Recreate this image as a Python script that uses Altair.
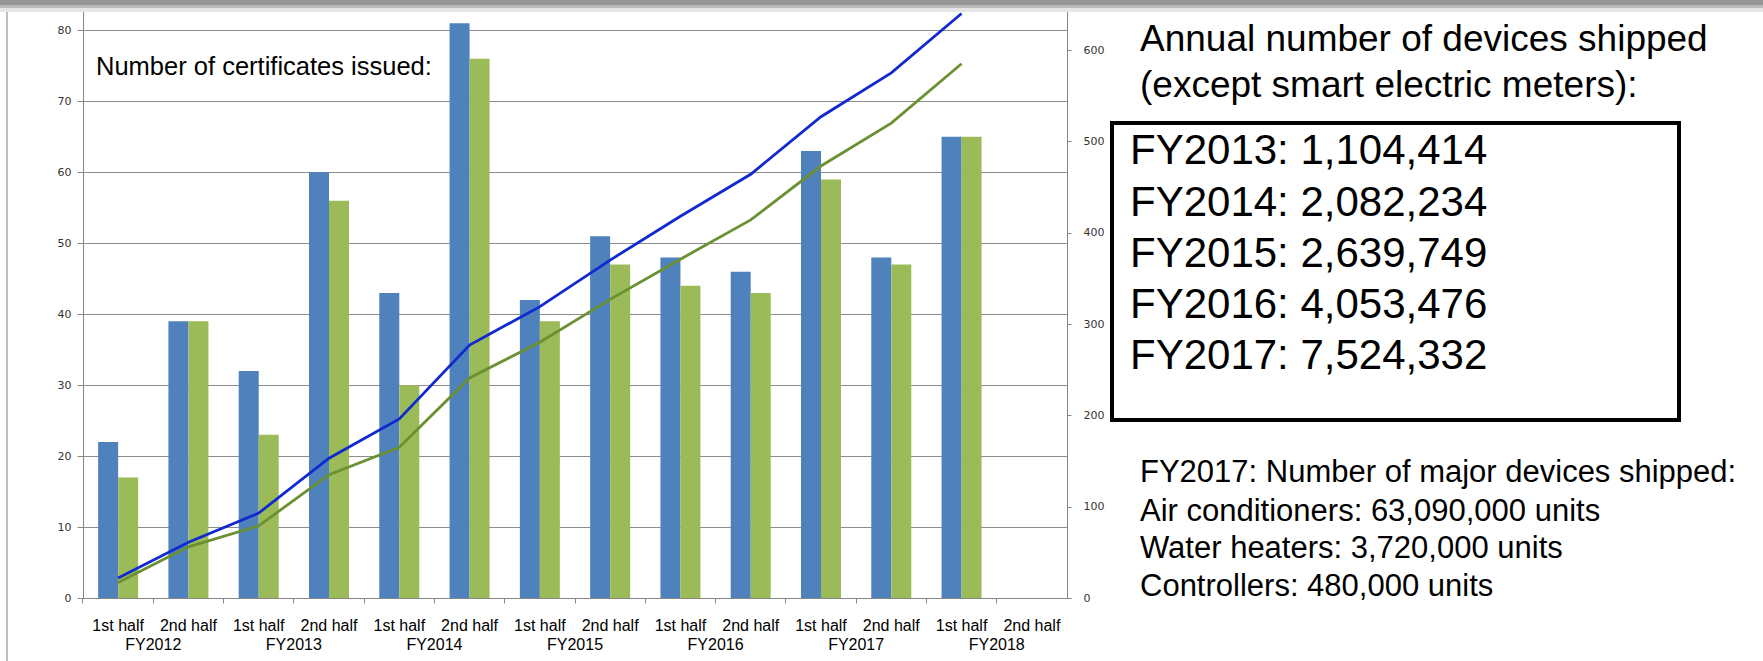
import altair as alt
import pandas as pd

# ---------------- data ----------------
fiscal_years = ["FY2012", "FY2013", "FY2014", "FY2015", "FY2016", "FY2017", "FY2018"]
halves = ["1st half", "2nd half"]
categories = [f"{fy}|{h}" for fy in fiscal_years for h in halves]

series = ["Series 1", "Series 2"]
# bars (left axis) - per half year, FY2018 2nd half has no data
bars_s1 = [22, 39, 32, 60, 43, 81, 42, 51, 48, 46, 63, 48, 65]
bars_s2 = [17, 39, 23, 56, 30, 76, 39, 47, 44, 43, 59, 47, 65]
# lines (right axis) - cumulative totals
line_s1 = [22, 61, 93, 153, 196, 277, 319, 370, 418, 464, 527, 575, 640]
line_s2 = [17, 56, 79, 135, 165, 241, 280, 327, 371, 414, 473, 520, 585]

left_ticks = [0, 10, 20, 30, 40, 50, 60, 70, 80]
right_ticks = [0, 100, 200, 300, 400, 500, 600]

cert_title = "Number of certificates issued:"
annual_title = ["Annual number of devices shipped", "(except smart electric meters):"]
annual_lines = ["FY2013: 1,104,414", "FY2014: 2,082,234", "FY2015: 2,639,749",
                "FY2016: 4,053,476", "FY2017: 7,524,332"]
major_lines = ["FY2017: Number of major devices shipped:",
               "Air conditioners: 63,090,000 units",
               "Water heaters: 3,720,000 units",
               "Controllers: 480,000 units"]

bar_colors = ["#4f81bd", "#9bbb59"]
line_colors = ["#1029d0", "#6a9031"]

# ---------------- tables ----------------
n = len(bars_s1)
bars_df = pd.DataFrame({
    "cat": categories[:n] * 2,
    "series": [series[0]] * n + [series[1]] * n,
    "value": bars_s1 + bars_s2,
})
lines_df = pd.DataFrame({
    "cat": categories[:n] * 2,
    "series": [series[0]] * n + [series[1]] * n,
    "cum": line_s1 + line_s2,
})
fy_df = pd.DataFrame({"cat": [f"{fy}|1st half" for fy in fiscal_years], "fy": fiscal_years})
one = pd.DataFrame({"a": [0]})

# ---------------- layout ----------------
OX, OY = 83, 4          # plot origin in page pixels
W, H = 984, 594
FONT = "Liberation Sans"
TICKFONT = "DejaVu Sans"

left_max = 83.73
right_max = 650.4

xscale = alt.Scale(domain=categories, paddingInner=0, paddingOuter=0)
xaxis = alt.Axis(
    title=None, labelExpr="split(datum.value, '|')[1]", labelAngle=0,
    labelFont=FONT, labelFontSize=16, labelColor="black", labelPadding=14,
    bandPosition=0, tickSize=5, tickColor="#868686", domainColor="#868686",
    labelFlush=False, labelOverlap=False, grid=False,
)

bars = alt.Chart(bars_df).mark_bar().encode(
    x=alt.X("cat:N", scale=xscale, axis=xaxis, sort=categories),
    xOffset=alt.XOffset("series:N", scale=alt.Scale(domain=series, paddingInner=0, paddingOuter=0.757)),
    y=alt.Y("value:Q", scale=alt.Scale(domain=[0, left_max], nice=False, zero=True),
            axis=alt.Axis(title=None, orient="left", values=left_ticks, grid=True,
                          gridColor="#8c8c8c", gridWidth=1, domainColor="#868686",
                          tickColor="#868686", tickSize=6, labelPadding=6,
                          labelFont=TICKFONT, labelFontSize=11, labelColor="#333333")),
    fill=alt.Fill("series:N", scale=alt.Scale(domain=series, range=bar_colors), legend=None),
)

lines = alt.Chart(lines_df).mark_line(strokeWidth=2.8).encode(
    x=alt.X("cat:N", scale=xscale, axis=xaxis, sort=categories),
    y=alt.Y("cum:Q", scale=alt.Scale(domain=[0, right_max], nice=False, zero=True),
            axis=alt.Axis(title=None, orient="right", values=right_ticks, grid=False,
                          domainColor="#868686", tickColor="#868686", tickSize=4,
                          labelPadding=12, labelFont=TICKFONT, labelFontSize=11,
                          labelColor="#333333")),
    stroke=alt.Stroke("series:N", scale=alt.Scale(domain=series, range=line_colors), legend=None),
    detail="series:N",
)

fy_labels = alt.Chart(fy_df).mark_text(font=FONT, fontSize=16, color="black", baseline="middle").encode(
    x=alt.X("cat:N", scale=xscale, axis=xaxis, bandPosition=1, sort=categories),
    y=alt.value(645 - OY),
    text="fy:N",
)


def label(txt, x, y, size, align="left"):
    return alt.Chart(one).mark_text(text=txt, font=FONT, fontSize=size, align=align,
                                    baseline="middle", color="black").encode(
        x=alt.value(x - OX), y=alt.value(y - OY))


annotations = [label(cert_title, 96, 67, 25.5)]
annotations += [label(t, 1140, y, 37) for t, y in zip(annual_title, [40, 86])]
annotations += [label(t, 1130, y, 42) for t, y in zip(annual_lines, [151, 203, 254, 305, 356])]
annotations += [label(t, 1140, y, 31) for t, y in zip(major_lines, [473, 512, 549, 587])]

box = alt.Chart(one).mark_rect(fill=None, stroke="black", strokeWidth=4).encode(
    x=alt.value(1112 - OX), x2=alt.value(1679 - OX),
    y=alt.value(123 - OY), y2=alt.value(420 - OY),
)

# slide frame decoration: grey top bar and left border
top_bar = [
    alt.Chart(one).mark_rect(color=c).encode(
        x=alt.value(-OX), x2=alt.value(1763 - OX), y=alt.value(y0 - OY), y2=alt.value(y1 - OY))
    for c, y0, y1 in [("#e6e6e6", 7, 12), ("#b9b9b9", 4, 8), ("#969696", 0, 5)]
]
left_border = alt.Chart(one).mark_rule(color="#a8a8a8", strokeWidth=1.5).encode(
    x=alt.value(7 - OX), y=alt.value(10 - OY), y2=alt.value(661 - OY))

chart = alt.layer(
    bars, lines, fy_labels, box, left_border, *annotations, *top_bar
).resolve_scale(
    y="independent"
).properties(
    width=W, height=H,
    autosize=alt.AutoSizeParams(type="none"),
    padding={"left": OX, "top": OY, "right": 1763 - OX - W, "bottom": 661 - OY - H},
    background="white",
).configure_view(stroke=None)

chart.save("out.html", embed_options={"renderer": "svg", "actions": False})
